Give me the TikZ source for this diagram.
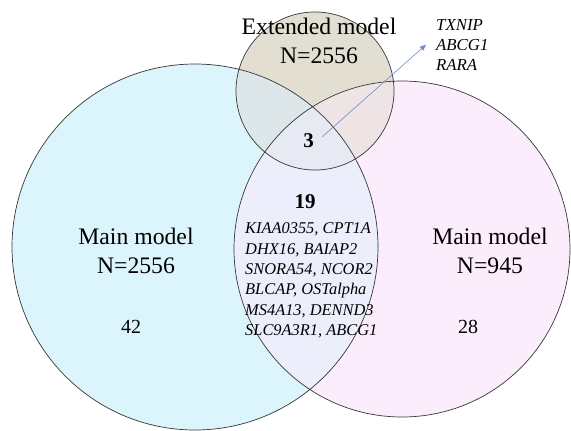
\documentclass[tikz,border=0pt]{standalone}
\usepackage{fontspec}
\setmainfont{Liberation Serif}
\usetikzlibrary{arrows.meta}

\definecolor{outline}{RGB}{55,55,55}
\definecolor{mainAfill}{RGB}{220,245,252}
\definecolor{mainBfill}{RGB}{252,237,252}
\definecolor{extfill}{RGB}{226,223,210}
\definecolor{ABfill}{RGB}{236,238,251}
\definecolor{AEfill}{RGB}{221,231,233}
\definecolor{BEfill}{RGB}{238,228,229}
\definecolor{ABEfill}{RGB}{232,234,243}
\definecolor{arrowblue}{RGB}{110,140,200}

\def\mainA{(195,247) circle[radius=183pt]}
\def\mainB{(402,249) circle[radius=168pt]}
\def\extset{(315,91) circle[radius=79pt]}

\tikzset{
  setline/.style={draw=outline, line width=0.7pt},
  title/.style={font=\fontsize{23.7}{29}\selectfont, align=center},
  count/.style={font=\fontsize{20}{24}\selectfont, anchor=base},
  shared/.style={font=\fontsize{21}{24}\selectfont\bfseries, anchor=base},
  genes/.style={font=\fontsize{16.4}{20.4}\selectfont\itshape, align=left,
    inner sep=0pt, anchor=north west},
}

\begin{document}
\begin{tikzpicture}[x=1pt,y=-1pt]
  \useasboundingbox (0,0) rectangle (571,431);
  % filled regions
  \fill[mainAfill] \mainA;
  \fill[mainBfill] \mainB;
  \fill[extfill] \extset;
  \begin{scope}
    \clip \mainA;
    \fill[ABfill] \mainB;
    \fill[AEfill] \extset;
  \end{scope}
  \begin{scope}
    \clip \mainB;
    \fill[BEfill] \extset;
    \clip \mainA;
    \fill[ABEfill] \extset;
  \end{scope}
  \draw[setline] \mainA \mainB \extset;

  % labels
  \node[title] (ext) at (319,41) {Extended model\\N=2556};
  \node[title] (mainleft) at (136,250.5) {Main model\\N=2556};
  \node[title] (mainright) at (490,251) {Main model\\N=945};
  \node[count] (onlyleft) at (131,333) {42};
  \node[count] (onlyright) at (468,333) {28};
  \node[shared] (three) at (308.5,147) {3};
  \node[shared] (nineteen) at (305,208) {19};
  \node[genes] (list19) at (245,222.5) {KIAA0355, CPT1A\\DHX16, BAIAP2\\SNORA54, NCOR2\\BLCAP, OSTalpha\\MS4A13, DENND3\\SLC9A3R1, ABCG1};
  \node[genes, font=\fontsize{16.8}{20}\selectfont\itshape] (list3) at (436,19) {TXNIP\\ABCG1\\RARA};

  \draw[arrowblue, line width=0.6pt, -{Triangle[length=6pt,width=5pt]}]
    ([xshift=13.5pt,yshift=10pt]three.base) -- ([xshift=-10pt]list3.west);
\end{tikzpicture}
\end{document}
